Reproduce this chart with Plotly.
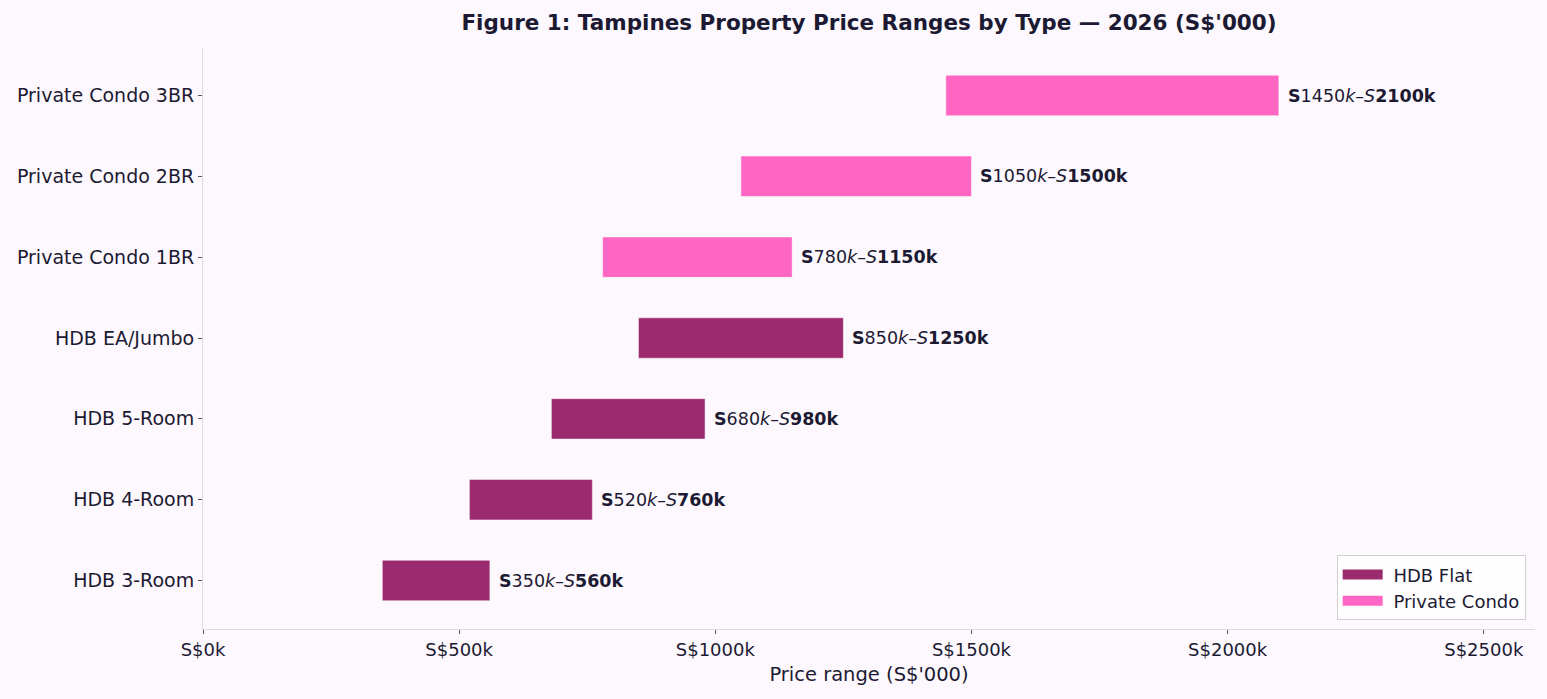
import plotly.graph_objects as go

categories = ["HDB 3-Room", "HDB 4-Room", "HDB 5-Room", "HDB EA/Jumbo",
              "Private Condo 1BR", "Private Condo 2BR", "Private Condo 3BR"]
types = ["HDB Flat", "HDB Flat", "HDB Flat", "HDB Flat",
         "Private Condo", "Private Condo", "Private Condo"]
low = [350, 520, 680, 850, 780, 1050, 1450]
high = [560, 760, 980, 1250, 1150, 1500, 2100]
x_ticks = [0, 500, 1000, 1500, 2000, 2500]
x_tick_labels = ["S$0k", "S$500k", "S$1000k", "S$1500k", "S$2000k", "S$2500k"]

colors = {"HDB Flat": "#9B2A6F", "Private Condo": "#FF66C4"}
text_color = "#1C1A33"
bg = "#FDF8FD"

fig = go.Figure()
for t in ["HDB Flat", "Private Condo"]:
    idx = [i for i, tt in enumerate(types) if tt == t]
    fig.add_trace(go.Bar(
        y=[categories[i] for i in idx],
        x=[high[i] - low[i] for i in idx],
        base=[low[i] for i in idx],
        orientation="h",
        width=0.5,
        name=t,
        showlegend=False,
        marker=dict(color=colors[t], line=dict(color="rgba(255,255,255,0.6)", width=0.8)),
        hoverinfo="skip",
    ))
# legend entries drawn as wide patches
for t in ["HDB Flat", "Private Condo"]:
    fig.add_trace(go.Scatter(
        x=[None], y=[None], mode="lines", name=" " + t,
        line=dict(color=colors[t], width=16),
        hoverinfo="skip",
    ))

for i, c in enumerate(categories):
    fig.add_annotation(
        x=high[i], y=c, xref="x", yref="y",
        text=f"<b>S</b>{low[i]}<i>k</i>–<i>S</i><b>{high[i]}k</b>",
        showarrow=False, xanchor="left", yanchor="middle", xshift=7,
        font=dict(family="DejaVu Sans", size=17.5, color=text_color),
    )

fig.update_layout(
    width=1547, height=699,
    paper_bgcolor=bg, plot_bgcolor=bg,
    margin=dict(l=203, r=12, t=47, b=70),
    font=dict(family="DejaVu Sans", size=19, color=text_color),
    title=dict(text="<b>Figure 1: Tampines Property Price Ranges by Type — 2026 (S$'000)</b>",
               x=0.5, xref="paper", xanchor="center", y=1 - 22 / 699, yanchor="middle",
               font=dict(family="DejaVu Sans", size=21.5, color=text_color)),
    barmode="overlay",
    showlegend=True,
    legend=dict(x=0.993, y=0.015, xanchor="right", yanchor="bottom",
                bgcolor="rgba(255,255,255,0.8)", bordercolor="#D0D0D0", borderwidth=1,
                font=dict(family="DejaVu Sans", size=18, color=text_color),
                traceorder="normal", itemwidth=40, tracegroupgap=0),
    xaxis=dict(range=[0, 2600], tickvals=x_ticks, ticktext=x_tick_labels,
               showgrid=False, zeroline=False, showline=True, linecolor="#DDDADF", linewidth=1,
               ticks="outside", ticklen=4, tickcolor="#555555",
               tickfont=dict(size=18),
               title=dict(text="Price range (S$'000)", font=dict(size=19.5), standoff=8)),
    yaxis=dict(categoryorder="array", categoryarray=categories, range=[-0.6, 6.6],
               showgrid=False, zeroline=False, showline=True, linecolor="#DDDADF", linewidth=1,
               ticks="outside", ticklen=4, tickcolor="#555555",
               tickfont=dict(size=19)),
)

fig.write_html("out.html")
